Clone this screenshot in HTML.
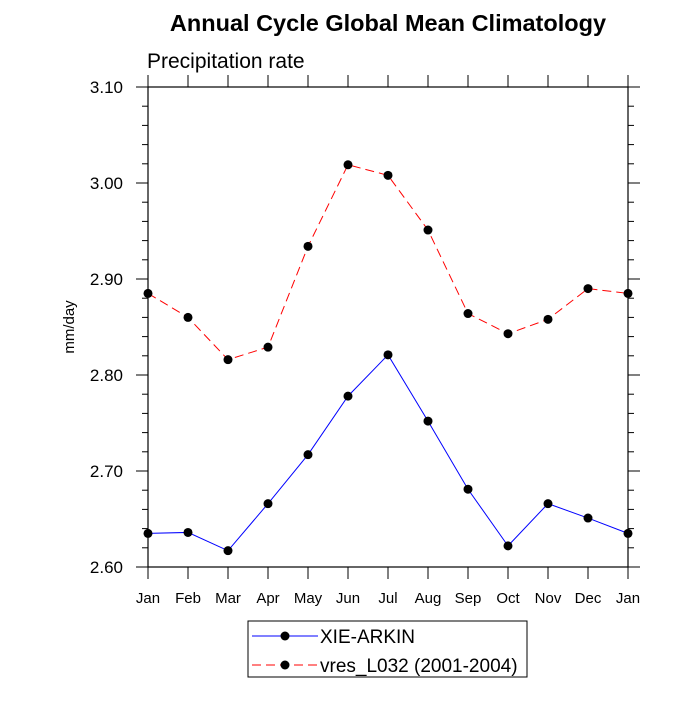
<!DOCTYPE html>
<html><head><meta charset="utf-8"><style>body{margin:0;background:#fff}svg text{font-family:"Liberation Sans",sans-serif}</style></head>
<body>
<svg id="c" width="700" height="700" xmlns="http://www.w3.org/2000/svg">
<text x="388" y="31" text-anchor="middle" font-size="23.5" font-weight="bold">Annual Cycle Global Mean Climatology</text>
<text x="147" y="68" font-size="21">Precipitation rate</text>
<text transform="translate(74,327) rotate(-90)" text-anchor="middle" font-size="15">mm/day</text>
<g id="axes"></g><g id="series"></g>
<g>
<rect x="248" y="621" width="279" height="56" fill="none" stroke="#000" stroke-width="1"/>
<line x1="252" y1="636" x2="318" y2="636" stroke="#00f"/><circle cx="285" cy="636" r="4.5"/>
<text x="320" y="643" font-size="19">XIE-ARKIN</text>
<line x1="252" y1="665" x2="318" y2="665" stroke="#f00" stroke-dasharray="9,5"/><circle cx="285" cy="665" r="4.5"/>
<text x="320" y="672" font-size="19">vres_L032 (2001-2004)</text>
</g>
</svg>
<script>
const months=["Jan","Feb","Mar","Apr","May","Jun","Jul","Aug","Sep","Oct","Nov","Dec","Jan"];
const xieArkin=[2.635,2.636,2.617,2.666,2.717,2.778,2.821,2.752,2.681,2.622,2.666,2.651,2.635];
const vres=[2.885,2.860,2.816,2.829,2.934,3.019,3.008,2.951,2.864,2.843,2.858,2.890,2.885];
const yTicks=["2.60","2.70","2.80","2.90","3.00","3.10"];
const L=148,R=628,T=87,B=567,ymin=2.6,ymax=3.1;
const xs=i=>L+i*(R-L)/(months.length-1);
const ys=v=>B-(v-ymin)/(ymax-ymin)*(B-T);
const NS="http://www.w3.org/2000/svg";
function mk(t,a,p){const e=document.createElementNS(NS,t);for(const k in a)e.setAttribute(k,a[k]);p.appendChild(e);return e;}
const ax=document.getElementById('axes');
const fr=mk('rect',{x:L,y:T,width:R-L,height:B-T,fill:'none',stroke:'#000','stroke-width':1.2},ax);


months.forEach((m,i)=>{const x=xs(i);
mk('line',{x1:x,y1:B,x2:x,y2:B+12,stroke:'#000'},ax);
mk('line',{x1:x,y1:T,x2:x,y2:T-12,stroke:'#000'},ax);
const t=mk('text',{x:x,y:B+36,'text-anchor':'middle','font-size':15},ax);t.textContent=m;

});
for(let k=0;k<=25;k++){const v=ymin+k*0.02,y=ys(v),maj=k%5==0,len=maj?12:6;
mk('line',{x1:L,y1:y,x2:L-len,y2:y,stroke:'#000'},ax);
mk('line',{x1:R,y1:y,x2:R+len,y2:y,stroke:'#000'},ax);}
yTicks.forEach(s=>{const y=ys(parseFloat(s));const t=mk('text',{x:123,y:y+6,'text-anchor':'end','font-size':17},ax);t.textContent=s;

});
const sg=document.getElementById('series');
function draw(d,col,dash,name){const p=mk('polyline',{points:d.map((v,i)=>xs(i)+','+ys(v)).join(' '),fill:'none',stroke:col,'stroke-width':1,'stroke-dasharray':dash},sg);


d.forEach((v,i)=>{const c=mk('circle',{cx:xs(i),cy:ys(v),r:4.5,fill:'#000'},sg);

});}
draw(vres,'#f00','9,5','vres');
draw(xieArkin,'#00f','none','xie-arkin');
</script>
</body></html>
